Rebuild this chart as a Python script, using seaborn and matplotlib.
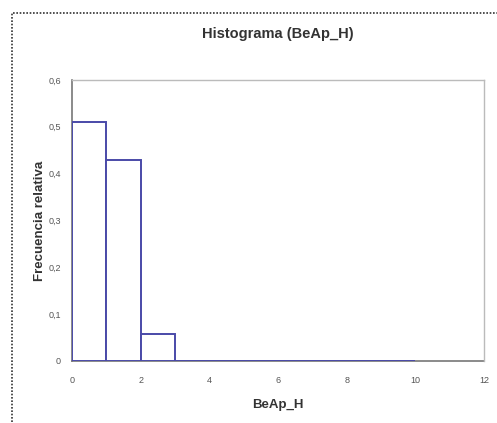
import numpy as np
import pandas as pd
import matplotlib
matplotlib.use("Agg")
import matplotlib.pyplot as plt
import seaborn as sns
from matplotlib.patches import Rectangle
from matplotlib.ticker import FuncFormatter

# relative frequency per class (width 1, from 0 to 10)
bin_edges = [0, 1, 2, 3, 4, 5, 6, 7, 8, 9, 10]
rel_freq = [0.51, 0.43, 0.057, 0, 0, 0, 0, 0, 0, 0]
x_ticks = [0, 2, 4, 6, 8, 10, 12]
y_ticks = [0, 0.1, 0.2, 0.3, 0.4, 0.5, 0.6]

df = pd.DataFrame({
    "BeAp_H": [e + 0.5 for e in bin_edges[:-1]],
    "freq": rel_freq,
})

sns.set_style("white")
plt.rcParams["font.family"] = ["Liberation Sans", "DejaVu Sans"]

fig = plt.figure(figsize=(4.97, 4.23), dpi=100)
ax = fig.add_axes([0.145, 0.147, 0.829, 0.664])

sns.histplot(data=df, x="BeAp_H", weights="freq", bins=bin_edges,
             stat="count", color="white", edgecolor="#4a4aa8",
             linewidth=1.4, alpha=1, ax=ax, zorder=3)

ax.set_xlim(0, 12)
ax.set_ylim(0, 0.6)
ax.set_xticks(x_ticks)
ax.set_yticks(y_ticks)
ax.xaxis.set_major_formatter(FuncFormatter(lambda v, p: f"{v:g}"))
ax.yaxis.set_major_formatter(FuncFormatter(lambda v, p: f"{v:g}".replace(".", ",")))
ax.tick_params(axis="both", direction="inout", length=4, width=0.8,
               labelsize=6.5, labelcolor="#555555", color="#333333", pad=6)
ax.tick_params(axis="x", pad=9)

for side in ["left", "bottom"]:
    ax.spines[side].set_color("#777777")
    ax.spines[side].set_linewidth(1.2)
    ax.spines[side].set_zorder(1)
for side in ["top", "right"]:
    ax.spines[side].set_color("#bbbbbb")
    ax.spines[side].set_linewidth(1.0)

ax.set_title("Histograma (BeAp_H)", fontsize=10.5, fontweight="bold",
             color="#333333", pad=30)
ax.set_xlabel("BeAp_H", fontsize=9.5, fontweight="bold", color="#333333", labelpad=10)
ax.set_ylabel("Frecuencia relativa", fontsize=9.5, fontweight="bold",
              color="#333333", labelpad=2)

# dotted outer frame
fig.patches.append(Rectangle((12 / 497, -0.05), 1.1, 1 - 13 / 423 + 0.05,
                             transform=fig.transFigure, fill=False,
                             edgecolor="#333333", linestyle=(0, (1, 1)),
                             linewidth=1.2))

fig.savefig("out.png", dpi=100)
